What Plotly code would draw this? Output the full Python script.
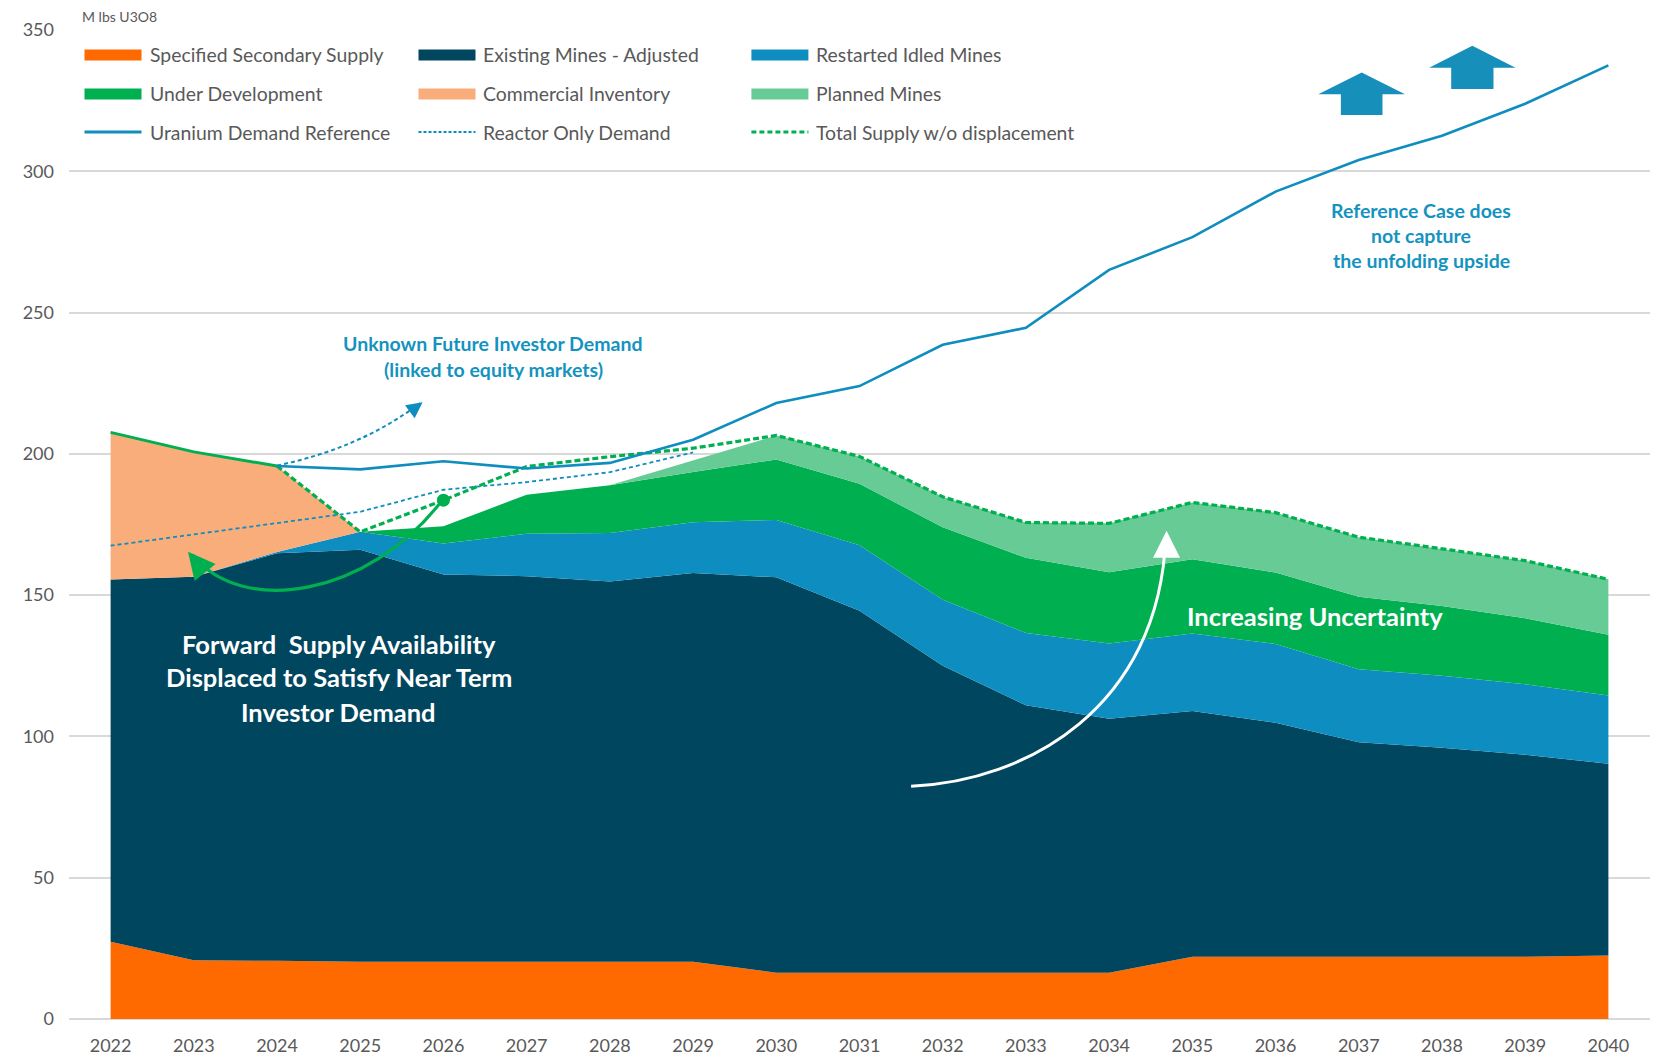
import plotly.graph_objects as go

# ---------------- data ----------------
years = list(range(2022, 2041))
tick_labels = [str(y) for y in years]

secondary_supply = [27.3, 20.8, 20.6, 20.3, 20.3, 20.3, 20.3, 20.3, 16.4, 16.4,
                    16.4, 16.4, 16.4, 22.0, 22.0, 22.0, 22.0, 22.0, 22.5]
existing_mines = [128.2, 135.7, 144.2, 145.8, 137.0, 136.4, 134.5, 137.5, 139.9, 128.1,
                  108.6, 94.6, 89.9, 87.0, 82.8, 75.9, 74.0, 71.5, 67.8]
restarted_idled = [0, 0, 0.5, 6.3, 11.0, 15.0, 17.2, 18.0, 20.3, 23.2,
                   23.4, 25.6, 26.6, 27.4, 27.9, 25.9, 25.5, 25.0, 24.2]
under_development = [0, 0, 0, 0, 6.1, 13.8, 16.9, 17.8, 21.4, 21.7,
                     25.6, 26.6, 25.2, 26.3, 25.3, 25.6, 24.7, 23.3, 21.5]
commercial_inventory = [52.1, 44.2, 30.4, 0, 0, 0, 0, 0, 0, 0,
                        0, 0, 0, 0, 0, 0, 0, 0, 0]
planned_mines = [0, 0, 0, 0, 0, 0, 0, 4.2, 8.5, 9.7,
                 10.8, 12.5, 17.3, 20.1, 21.2, 21.1, 20.2, 20.4, 19.6]

demand_reference = [None, None, 195.7, 194.5, 197.4, 194.8, 196.8, 205.0, 218.0, 224.0,
                    238.6, 244.6, 265.1, 276.7, 292.8, 304.0, 312.6, 323.9, 337.5]
reactor_only_demand = [167.5, 171.5, 175.5, 179.5, 187.3, 190.0, 193.5, 200.5, None, None,
                       None, None, None, None, None, None, None, None, None]
total_supply_actual = [207.6, 200.7, 195.7, None, None, None, None, None, None, None,
                       None, None, None, None, None, None, None, None, None]
total_supply_wo_displacement = [None, None, 195.7, 172.4, 183.6, 195.5, 199.0, 202.0, 206.5, 199.1,
                                184.8, 175.7, 175.4, 182.8, 179.2, 170.5, 166.4, 162.2, 155.6]

# ---------------- styles ----------------
C_SEC = "#FF6A00"
C_EXIST = "#01465F"
C_RESTART = "#0E8EC0"
C_UNDER = "#00AF50"
C_INV = "#F9AD7B"
C_PLAN = "#66CB95"
C_DEMAND = "#0E8DBE"
C_TEXT = "#595959"
C_NOTE = "#1493BF"
FONT = "Lato, 'Open Sans', sans-serif"

W, H = 1657, 1059
ML, MR, MT, MB = 69, 7, 30, 40
PW, PH = W - ML - MR, H - MT - MB


def px_x(X):
    return (X - ML) / PW


def px_y(Y):
    return (H - MB - Y) / PH


fig = go.Figure()

stack = [
    ("Specified Secondary Supply", secondary_supply, C_SEC),
    ("Existing Mines - Adjusted", existing_mines, C_EXIST),
    ("Restarted Idled Mines", restarted_idled, C_RESTART),
    ("Under Development", under_development, C_UNDER),
    ("Commercial Inventory", commercial_inventory, C_INV),
    ("Planned Mines", planned_mines, C_PLAN),
]
for name, vals, col in stack:
    fig.add_trace(go.Scatter(x=years, y=vals, name=name, stackgroup="supply", mode="lines",
                             line=dict(width=0, color=col), fillcolor=col, hoverinfo="x+y+name"))

fig.add_trace(go.Scatter(x=years, y=total_supply_actual, mode="lines", name="Total Supply",
                         line=dict(color=C_UNDER, width=3)))
fig.add_trace(go.Scatter(x=years, y=reactor_only_demand, mode="lines", name="Reactor Only Demand",
                         line=dict(color=C_DEMAND, width=1.8, dash="4px,3px")))
fig.add_trace(go.Scatter(x=years, y=total_supply_wo_displacement, mode="lines",
                         name="Total Supply w/o displacement",
                         line=dict(color=C_UNDER, width=3.2, dash="6px,3px")))
fig.add_trace(go.Scatter(x=years, y=demand_reference, mode="lines", name="Uranium Demand Reference",
                         line=dict(color=C_DEMAND, width=2.6)))
# dot at start of displacement arrow (2026 on the total-supply line)
fig.add_trace(go.Scatter(x=[years[4]], y=[total_supply_wo_displacement[4]], mode="markers",
                         marker=dict(color=C_UNDER, size=13), hoverinfo="skip"))

shapes = []
annotations = []

# ---------------- manual legend ----------------
legend_rows = [55, 94, 132]
sym_x = [84.5, 418.5, 751.4]
txt_x = [148, 481, 814]
legend_items = [
    [("Specified Secondary Supply", "fill", C_SEC, None),
     ("Existing Mines - Adjusted", "fill", C_EXIST, None),
     ("Restarted Idled Mines", "fill", C_RESTART, None)],
    [("Under Development", "fill", C_UNDER, None),
     ("Commercial Inventory", "fill", C_INV, None),
     ("Planned Mines", "fill", C_PLAN, None)],
    [("Uranium Demand Reference", "line", C_DEMAND, "solid"),
     ("Reactor Only Demand", "line", C_DEMAND, "3px,2px"),
     ("Total Supply w/o displacement", "line", C_UNDER, "5px,3px")],
]
for r, row in enumerate(legend_items):
    Y = legend_rows[r]
    for c, (label, kind, col, dash) in enumerate(row):
        x0 = sym_x[c]
        if kind == "fill":
            shapes.append(dict(type="rect", xref="paper", yref="paper",
                               x0=px_x(x0), x1=px_x(x0 + 57), y0=px_y(Y + 5.5), y1=px_y(Y - 5.5),
                               fillcolor=col, line=dict(width=0)))
        else:
            lw = 1.8 if c == 1 else 3
            shapes.append(dict(type="line", xref="paper", yref="paper",
                               x0=px_x(x0), x1=px_x(x0 + 57), y0=px_y(Y), y1=px_y(Y),
                               line=dict(color=col, width=lw, dash=dash)))
        annotations.append(dict(text=label, xref="paper", yref="paper", x=px_x(txt_x[c]), y=px_y(Y),
                                xanchor="left", yanchor="middle", showarrow=False,
                                font=dict(family=FONT, size=19.4, color=C_TEXT)))

annotations.append(dict(text="M lbs U3O8", xref="paper", yref="paper", x=px_x(80), y=px_y(16),
                        xanchor="left", yanchor="middle", showarrow=False,
                        font=dict(family=FONT, size=14, color=C_TEXT)))

# ---------------- curved arrows ----------------
# blue dashed: unknown future investor demand
shapes.append(dict(type="path", xref="x", yref="y",
                   path="M 2024.0,195.9 Q 2025.0,201.9 2025.72,218.0",
                   line=dict(color=C_DEMAND, width=2, dash="4px,3px")))
annotations.append(dict(x=2025.75, y=218.3, xref="x", yref="y", ax=-10, ay=7.5, text="",
                        showarrow=True, arrowhead=2, arrowsize=1.6, arrowwidth=2, arrowcolor=C_DEMAND))

# green solid: displacement arrow
shapes.append(dict(type="path", xref="x", yref="y",
                   path="M 2025.97,183.0 C 2025.1,150 2023.6,142 2022.98,164.3",
                   line=dict(color=C_UNDER, width=3.2)))
annotations.append(dict(x=2022.93, y=165.4, xref="x", yref="y", ax=9, ay=11, text="",
                        showarrow=True, arrowhead=2, arrowsize=1.8, arrowwidth=3, arrowcolor=C_UNDER))

# white: increasing uncertainty
shapes.append(dict(type="path", xref="x", yref="y",
                   path="M 2031.62,82.4 C 2033.0,84 2034.6,110 2034.68,170.5",
                   line=dict(color="white", width=3)))
annotations.append(dict(x=2034.69, y=172.8, xref="x", yref="y", ax=0, ay=14, text="",
                        showarrow=True, arrowhead=2, arrowsize=1.8, arrowwidth=3, arrowcolor="white"))

# block up arrows
C_BLOCK = "#168FBB"
for (tx, ty, base, hw, sw, bot) in [(2037.035, 335.0, 327.3, 0.521, 0.25, 319.9),
                                     (2038.365, 344.4, 336.6, 0.519, 0.254, 329.1)]:
    p = (f"M {tx-sw},{bot} L {tx-sw},{base} L {tx-hw},{base} L {tx},{ty} "
         f"L {tx+hw},{base} L {tx+sw},{base} L {tx+sw},{bot} Z")
    shapes.append(dict(type="path", xref="x", yref="y", path=p, fillcolor=C_BLOCK,
                       line=dict(width=0)))

# ---------------- text notes ----------------
annotations += [
    dict(text="<b>Unknown Future Investor Demand</b>", x=2026.6, y=239.0),
    dict(text="<b>(linked to equity markets)</b>", x=2026.6, y=229.7),
]
for a in annotations[-2:]:
    a.update(xref="x", yref="y", showarrow=False, font=dict(family=FONT, size=19.5, color=C_NOTE))

for txt, yy in [("Reference Case does", 286.2), ("not capture", 277.3), ("the unfolding upside", 268.4)]:
    annotations.append(dict(text=f"<b>{txt}</b>", x=2037.75, y=yy, xref="x", yref="y", showarrow=False,
                            font=dict(family=FONT, size=19.5, color=C_NOTE)))

for txt, yy in [("Forward  Supply Availability", 132.7), ("Displaced to Satisfy Near Term", 120.9),
                ("Investor Demand", 108.7)]:
    annotations.append(dict(text=f"<b>{txt}</b>", x=2024.74, y=yy, xref="x", yref="y", showarrow=False,
                            font=dict(family=FONT, size=25.5, color="white")))

annotations.append(dict(text="<b>Increasing Uncertainty</b>", x=2036.47, y=142.6, xref="x", yref="y",
                        showarrow=False, font=dict(family=FONT, size=25.5, color="white")))

fig.update_layout(
    width=W, height=H,
    margin=dict(l=ML, r=MR, t=MT, b=MB, autoexpand=False),
    plot_bgcolor="white", paper_bgcolor="white",
    showlegend=False,
    font=dict(family=FONT, color=C_TEXT),
    shapes=shapes, annotations=annotations,
    xaxis=dict(range=[2021.5, 2040.5], tickmode="array", tickvals=years, ticktext=tick_labels,
               showgrid=False, zeroline=False, showline=False, ticks="", automargin=False,
               tickfont=dict(family=FONT, size=18, color=C_TEXT), ticklabelstandoff=14),
    yaxis=dict(range=[0, 350], dtick=50, showgrid=True, gridcolor="#D9D9D9", gridwidth=1.5,
               zeroline=True, zerolinecolor="#D9D9D9", zerolinewidth=1.5, showline=False, ticks="",
               automargin=False,
               tickfont=dict(family=FONT, size=18, color=C_TEXT), ticklabelstandoff=14),
)

fig.write_html("out.html", config={"displayModeBar": False},
               post_script="document.body.style.margin='0';document.body.style.overflow='hidden';")
